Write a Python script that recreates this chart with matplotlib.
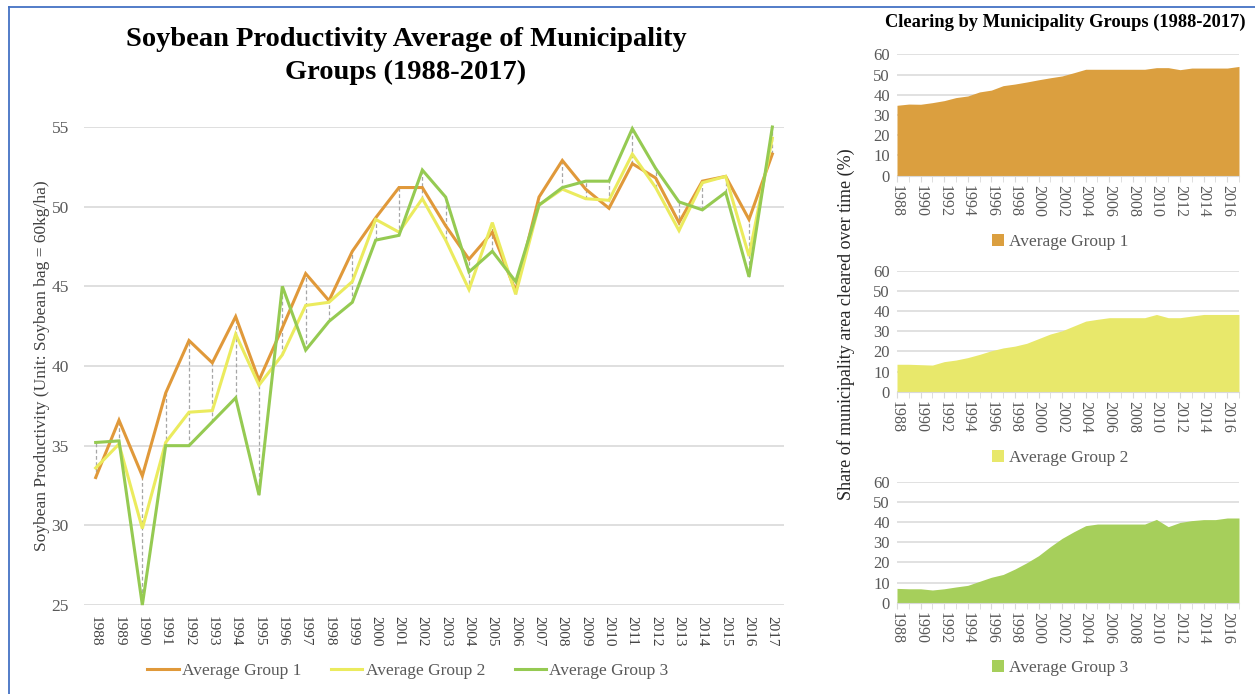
#!/usr/bin/env python3
"""Soybean productivity and clearing share by municipality group, 1988-2017."""
import matplotlib
matplotlib.use('Agg')
import matplotlib.pyplot as plt
from matplotlib.lines import Line2D
from matplotlib.patches import Patch

plt.rcParams['font.family'] = ['Liberation Serif', 'DejaVu Serif']

years = list(range(1988, 2018))
group_names = ['Average Group 1', 'Average Group 2', 'Average Group 3']

# productivity, soybean bags (60 kg) per ha
prod_g1 = [33.0, 36.6, 33.1, 38.3, 41.6, 40.2, 43.1, 39.1, 42.4, 45.8,
           44.1, 47.2, 49.3, 51.2, 51.2, 48.8, 46.7, 48.4, 44.7, 50.6,
           52.9, 51.1, 49.9, 52.7, 51.8, 49.0, 51.6, 51.9, 49.2, 53.3]
prod_g2 = [33.6, 35.1, 29.8, 35.2, 37.1, 37.2, 42.0, 38.8, 40.7, 43.8,
           44.0, 45.3, 49.2, 48.4, 50.5, 47.9, 44.8, 49.0, 44.5, 50.1,
           51.1, 50.5, 50.4, 53.3, 51.2, 48.5, 51.5, 51.9, 46.9, 54.3]
prod_g3 = [35.2, 35.3, 25.0, 35.0, 35.0, 36.5, 38.0, 31.9, 45.0, 41.0,
           42.8, 44.0, 47.9, 48.2, 52.3, 50.6, 45.9, 47.2, 45.3, 50.1,
           51.2, 51.6, 51.6, 54.9, 52.4, 50.3, 49.8, 50.9, 45.6, 55.0]

# share of municipality area cleared (%)
clear_g1 = [34.8, 35.4, 35.3, 36.1, 37.1, 38.6, 39.4, 41.4, 42.3, 44.5,
            45.3, 46.3, 47.4, 48.4, 49.3, 50.9, 52.6, 52.6, 52.6, 52.6,
            52.6, 52.6, 53.4, 53.4, 52.4, 53.2, 53.2, 53.2, 53.2, 54.0]
clear_g2 = [13.6, 13.6, 13.4, 13.2, 14.9, 15.7, 16.9, 18.5, 20.3, 21.7,
            22.6, 24.0, 26.3, 28.6, 30.2, 32.6, 35.0, 35.9, 36.7, 36.7,
            36.7, 36.7, 38.3, 36.7, 36.7, 37.5, 38.3, 38.3, 38.3, 38.3]
clear_g3 = [7.1, 6.9, 6.9, 6.3, 6.9, 7.8, 8.6, 10.6, 12.6, 14.0,
            16.7, 19.8, 23.3, 27.8, 31.9, 35.2, 38.2, 39.0, 39.0, 39.0,
            39.0, 39.0, 41.3, 37.7, 39.8, 40.7, 41.2, 41.2, 42.0, 42.0]

line_colors = ['#E0993A', '#EBEB5E', '#95CA52']
fill_colors = ['#DB9F3F', '#E8E86B', '#A6CF5B']
grid_c = '#D9D9D9'
label_c = '#595959'

W, H = 1255, 694
fig = plt.figure(figsize=(W / 100, H / 100), dpi=100)


def px_axes(left, top, right, bottom):
    return fig.add_axes([left / W, 1 - bottom / H, (right - left) / W, (bottom - top) / H])


# frame lines
fig.add_artist(Line2D([9 / W, 9 / W], [0, 1 - 7 / H], color='#4472C4', lw=1.3))
fig.add_artist(Line2D([9 / W, 1], [1 - 7 / H, 1 - 7 / H], color='#4472C4', lw=1.3))

# ---- left chart: productivity lines ----
ax = px_axes(84, 127, 784, 605)
xs = list(range(len(years)))
series = [prod_g1, prod_g2, prod_g3]
for i in xs:
    vals = [s[i] for s in series]
    ax.plot([i, i], [min(vals), max(vals)], color='#A6A6A6', lw=0.9,
            ls=(0, (3, 2)), zorder=2)
for s, c, name in zip(series, line_colors, group_names):
    ax.plot(xs, s, color=c, lw=2.2, label=name, zorder=3, clip_on=False,
            solid_joinstyle='miter')
ax.set_xlim(-0.5, len(years) - 0.5)
ax.set_ylim(25, 55)
ax.set_yticks(range(25, 56, 5))
ax.set_xticks(xs)
ax.set_xticklabels([str(y) for y in years], rotation=-90, fontsize=11, color='#404040')
ax.tick_params(axis='y', labelsize=12.5, colors=label_c, length=0, pad=11)
ax.tick_params(axis='x', length=0, pad=8)
ax.grid(True, axis='y', color=grid_c, lw=1.2)
ax.set_axisbelow(True)
for sp in ax.spines.values():
    sp.set_visible(False)
fig.text(42 / W, 1 - 366 / H, 'Soybean Productivity (Unit: Soybean bag = 60kg/ha)', rotation=90,
         ha='center', va='center', fontsize=12.5, color='#404040')
fig.text(406 / W, 1 - 56 / H, 'Soybean Productivity Average of Municipality\nGroups (1988-2017)',
         ha='center', va='center', fontsize=20.5, fontweight='bold', linespacing=1.45)
fig.legend(handles=[Line2D([], [], color=c, lw=2.2) for c in line_colors], labels=group_names,
           loc='center', bbox_to_anchor=(408 / W, 1 - 671 / H), ncol=3, frameon=False,
           fontsize=12.5, labelcolor=label_c, handlelength=1.8, handletextpad=0.2,
           columnspacing=1.7)

# ---- right charts: clearing share areas ----
panels = [(54.3, 175.7, clear_g1, 242), (270.7, 391.7, clear_g2, 458),
          (481.7, 602.7, clear_g3, 668)]
for (top, bottom, vals, leg_y), fc, name in zip(panels, fill_colors, group_names):
    a = px_axes(897, top, 1239, bottom)
    a.fill_between(xs, 0, vals, color=fc, lw=0, zorder=2)
    a.set_xlim(0, len(years) - 1)
    a.set_ylim(0, 60)
    a.set_yticks(range(0, 61, 10))
    a.set_xticks(xs[::2])
    a.set_xticklabels([str(y) for y in years[::2]], rotation=-90)
    a.set_xticks(xs, minor=True)
    a.tick_params(axis='y', length=0, labelsize=12, colors=label_c, pad=5)
    a.tick_params(axis='x', which='both', length=4, color=grid_c, labelsize=11.5,
                  labelcolor=label_c, pad=3)
    a.grid(True, axis='y', color=grid_c, lw=1.1)
    a.set_axisbelow(True)
    for k in ('top', 'right', 'left'):
        a.spines[k].set_visible(False)
    a.spines['bottom'].set_color(grid_c)
    fig.legend(handles=[Patch(facecolor=fc)], labels=[name], loc='center',
               bbox_to_anchor=(1060 / W, 1 - leg_y / H), frameon=False, fontsize=12.5,
               labelcolor=label_c, handlelength=0.7, handleheight=0.7, handletextpad=0.3)

fig.text(1065 / W, 1 - 22 / H, 'Clearing by Municipality Groups (1988-2017)', ha='center',
         va='center', fontsize=13.3, fontweight='bold')
fig.text(846 / W, 1 - 324 / H, 'Share of municipality area cleared over time (%)', rotation=90,
         ha='center', va='center', fontsize=13, color='#262626')

fig.savefig('out.png', dpi=100, facecolor='white')
